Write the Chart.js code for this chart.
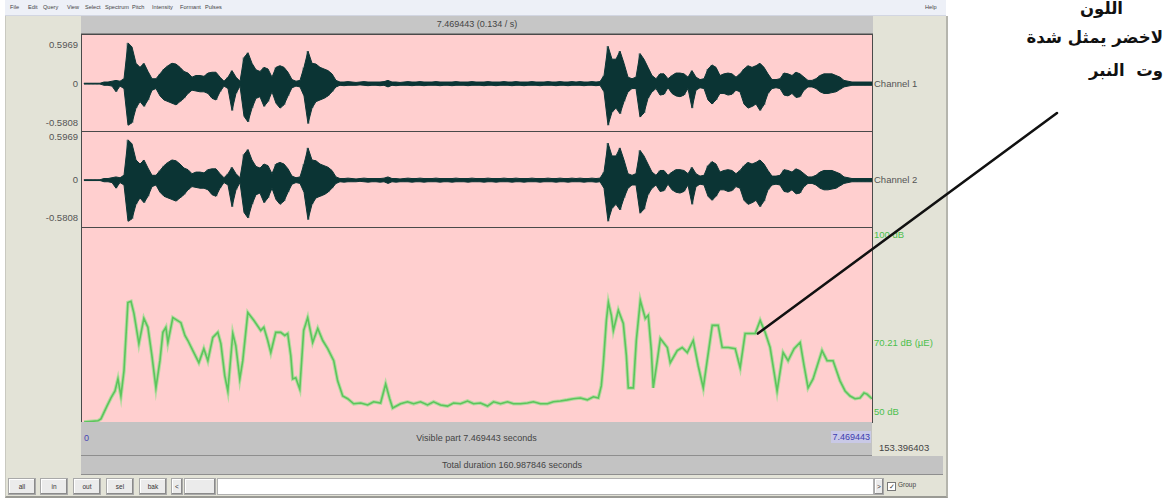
<!DOCTYPE html>
<html>
<head>
<meta charset="utf-8">
<script src="https://cdn.jsdelivr.net/npm/chart.js@4.4.1/dist/chart.umd.min.js"></script>
<style>
  html, body { margin: 0; padding: 0; width: 1176px; height: 500px; overflow: hidden; background: #ffffff;
    font-family: "Liberation Sans", Arial, sans-serif; }
  .a { position: absolute; }
  #menubar { left: 5px; top: 0; width: 941px; height: 15px; background: #edf0f7; border-bottom: 1px solid #d2d6e2; }
  .mi { position: absolute; top: 4px; font-size: 5.6px; color: #444; }
  #win { left: 5px; top: 16px; width: 940px; height: 480px; background: #e3e3d7; border-left: 1px solid #c9c9c0;
    border-right: 2px solid #b5b5ad; border-bottom: 2px solid #9a9a94; }
  #titlebar { left: 81px; top: 16px; width: 792px; height: 17px; background: #c6c6c6; border-bottom: 1px solid #8a8a8a;
    font-size: 9px; color: #444; text-align: center; line-height: 17px; }
  #pane { left: 81px; top: 34px; width: 790px; height: 387px; border: 1px solid #4a4a4a; background: #ffcfcf; }
  .sep { position: absolute; left: 0; width: 790px; height: 1px; background: #4a4a4a; }
  canvas.plot { position: absolute; left: 0; }
  .lab { position: absolute; font-size: 9.5px; color: #555; white-space: nowrap; }
  .lab.r { text-align: right; width: 60px; }
  .green { color: #4cbf4c; }
  #visbar { left: 81px; top: 422px; width: 791px; height: 33px; background: #c3c3c3; border-bottom: 1px solid #8e8e8e;
    font-size: 9px; color: #444; }
  #totbar { left: 81px; top: 456px; width: 862px; height: 18px; background: #c3c3c3; border-bottom: 1px solid #8e8e8e;
    font-size: 9px; color: #444; text-align: center; line-height: 18px; }
  .btn { position: absolute; top: 478px; height: 15px; background: #ebebeb; border: 1px solid #a9a9a9;
    box-shadow: inset -1px -1px 0 #8a8a8a, inset 1px 1px 0 #fff; font-size: 6.5px; color: #333; text-align: center; line-height: 15px; }
  #scroll { left: 217px; top: 478px; width: 655px; height: 15px; background: #ffffff; border: 1px solid #b0b0b0; }
  .ar { position: absolute; right: 13px; direction: rtl; font-family: "DejaVu Sans", sans-serif; font-weight: bold;
    font-size: 16.5px; color: #111; white-space: pre; }
  #overlay { position: absolute; left: 0; top: 0; pointer-events: none; }
</style>
</head>
<body>

<div id="win" class="a"></div>
<div id="menubar" class="a">
  <span class="mi" style="left:5px">File</span><span class="mi" style="left:23px">Edit</span><span class="mi" style="left:38px">Query</span>
  <span class="mi" style="left:62px">View</span><span class="mi" style="left:80px">Select</span><span class="mi" style="left:100px">Spectrum</span>
  <span class="mi" style="left:127px">Pitch</span><span class="mi" style="left:147px">Intensity</span><span class="mi" style="left:175px">Formant</span>
  <span class="mi" style="left:200px">Pulses</span><span class="mi" style="left:920px">Help</span>
</div>
<div id="titlebar" class="a">7.469443 (0.134 / s)</div>

<div id="pane" class="a">
  <canvas id="ch1" class="plot" width="790" height="96" style="top:0"></canvas>
  <div class="sep" style="top:96px"></div>
  <canvas id="ch2" class="plot" width="790" height="95" style="top:97px"></canvas>
  <div class="sep" style="top:192px"></div>
  <canvas id="inten" class="plot" width="790" height="194" style="top:193px"></canvas>
</div>

<!-- amplitude labels -->
<div class="lab r" style="left:18px;top:39px">0.5969</div>
<div class="lab r" style="left:18px;top:78px">0</div>
<div class="lab r" style="left:18px;top:117px">-0.5808</div>
<div class="lab r" style="left:18px;top:131px">0.5969</div>
<div class="lab r" style="left:18px;top:174px">0</div>
<div class="lab r" style="left:18px;top:212px">-0.5808</div>
<div class="lab" style="left:874px;top:78px">Channel 1</div>
<div class="lab" style="left:874px;top:174px">Channel 2</div>
<div class="lab green" style="left:874px;top:229px">100 dB</div>
<div class="lab green" id="midLab" style="left:874px;top:336px">70.21 dB (µE)</div>
<div class="lab green" style="left:874px;top:406px">50 dB</div>

<div id="visbar" class="a">
  <span class="a" style="left:3px;top:11px;color:#4646b4">0</span>
  <span class="a" style="left:0;width:791px;top:11px;text-align:center">Visible part 7.469443 seconds</span>
  <span class="a" style="right:1px;top:9px;padding:1px 1px;background:#c9c9e6;color:#3c3cb0">7.469443</span>
</div>
<div class="lab" style="left:879px;top:442px;color:#444">153.396403</div>
<div id="totbar" class="a">Total duration 160.987846 seconds</div>

<div class="btn" style="left:8px;width:26px">all</div>
<div class="btn" style="left:40px;width:26px">in</div>
<div class="btn" style="left:73px;width:26px">out</div>
<div class="btn" style="left:106px;width:26px">sel</div>
<div class="btn" style="left:139px;width:26px">bak</div>
<div class="btn" style="left:171px;width:10px">&lt;</div>
<div class="btn" style="left:184px;width:30px"></div>
<div id="scroll" class="a"></div>
<div class="btn" style="left:874px;width:8px">&gt;</div>
<div class="a" style="left:887px;top:482px;width:7px;height:7px;border:1px solid #777;background:#fff;font-size:7px;line-height:7px;color:#333;text-align:center">✓</div>
<div class="a" style="left:898px;top:481px;font-size:6.5px;color:#444">Group</div>

<div class="ar" style="top:-1px;right:53px">اللون</div>
<div class="ar" style="top:28px">لاخضر يمثل شدة</div>
<div class="ar" style="top:61px">وت  النبر</div>

<canvas id="overlay" width="1176" height="500"></canvas>

<script>
// ---- visible window ----
const visibleStart = 0;
const visibleEnd = 7.469443;

// ---- waveform envelope (same signal on both channels), one frame every envStep seconds ----
const envStep = 0.03782;
const envTop = [
  0.005,0.005,0.005,0.005,0.005,0.02,0.02,0.03,0.04,0.03,
  0.06,0.50,0.45,0.25,0.20,0.25,0.15,0.06,0.06,0.12,
  0.18,0.22,0.25,0.24,0.20,0.15,0.13,0.08,0.10,0.10,
  0.09,0.13,0.14,0.14,0.08,0.03,0.08,0.16,0.08,0.03,
  0.32,0.38,0.25,0.17,0.15,0.20,0.18,0.08,0.20,0.22,
  0.20,0.14,0.05,0.03,0.04,0.20,0.40,0.25,0.24,0.20,
  0.18,0.16,0.12,0.04,0.02,0.02,0.025,0.02,0.015,0.02,
  0.025,0.02,0.02,0.02,0.02,0.025,0.04,0.02,0.02,0.015,
  0.02,0.025,0.02,0.02,0.025,0.02,0.02,0.02,0.025,0.02,
  0.02,0.02,0.02,0.025,0.02,0.02,0.02,0.025,0.02,0.02,
  0.02,0.025,0.02,0.02,0.02,0.025,0.02,0.02,0.025,0.02,
  0.02,0.02,0.025,0.02,0.02,0.02,0.025,0.02,0.02,0.025,
  0.02,0.02,0.025,0.02,0.025,0.02,0.02,0.025,0.02,0.025,
  0.10,0.46,0.30,0.30,0.40,0.25,0.08,0.06,0.08,0.37,
  0.30,0.20,0.10,0.06,0.12,0.12,0.06,0.10,0.13,0.13,
  0.12,0.08,0.16,0.08,0.05,0.06,0.18,0.23,0.20,0.10,
  0.12,0.13,0.12,0.08,0.12,0.18,0.22,0.20,0.22,0.25,
  0.20,0.12,0.05,0.05,0.06,0.13,0.12,0.10,0.14,0.12,
  0.08,0.04,0.04,0.06,0.10,0.12,0.12,0.12,0.10,0.08,
  0.04,0.03,0.02,0.02,0.02,0.02,0.02,0.02
];
const envBottom = [
  0.005,0.005,0.005,0.005,0.005,0.02,0.02,0.03,0.10,0.03,
  0.06,0.51,0.48,0.30,0.22,0.28,0.20,0.08,0.06,0.15,
  0.20,0.22,0.24,0.26,0.22,0.18,0.12,0.08,0.09,0.10,
  0.10,0.12,0.18,0.20,0.10,0.03,0.06,0.33,0.12,0.03,
  0.40,0.47,0.30,0.18,0.16,0.28,0.22,0.10,0.24,0.30,
  0.26,0.15,0.05,0.03,0.04,0.15,0.49,0.30,0.22,0.20,
  0.18,0.15,0.10,0.04,0.02,0.025,0.02,0.02,0.02,0.015,
  0.02,0.025,0.02,0.02,0.025,0.02,0.04,0.02,0.025,0.02,
  0.02,0.02,0.025,0.02,0.02,0.025,0.02,0.02,0.02,0.025,
  0.02,0.02,0.025,0.02,0.02,0.02,0.025,0.02,0.02,0.02,
  0.025,0.02,0.02,0.025,0.02,0.02,0.02,0.025,0.02,0.02,
  0.025,0.02,0.02,0.02,0.025,0.02,0.02,0.02,0.025,0.02,
  0.02,0.025,0.02,0.02,0.02,0.025,0.02,0.02,0.025,0.02,
  0.10,0.51,0.35,0.30,0.37,0.22,0.10,0.06,0.06,0.41,
  0.36,0.18,0.10,0.06,0.14,0.13,0.05,0.12,0.15,0.16,
  0.14,0.06,0.30,0.08,0.05,0.06,0.20,0.25,0.20,0.12,
  0.12,0.14,0.13,0.08,0.10,0.25,0.30,0.28,0.25,0.33,
  0.26,0.12,0.06,0.05,0.06,0.14,0.15,0.12,0.17,0.16,
  0.08,0.04,0.04,0.06,0.10,0.12,0.12,0.11,0.10,0.07,
  0.04,0.03,0.02,0.02,0.02,0.02,0.02,0.02
];
const ampMax = 0.5969;
const ampMin = -0.5808;

// ---- intensity contour ----
const intensityTime = [
  0.019,0.151,0.179,0.236,0.274,0.312,0.340,0.368,0.397,0.434,0.463,0.491,0.538,0.585,0.623,0.661,0.699,0.737,0.765,0.793,
  0.812,0.859,0.935,0.973,1.001,1.048,1.105,1.152,1.190,1.237,1.284,1.313,1.350,1.379,1.426,1.454,1.492,1.520,1.568,1.624,
  1.690,1.719,1.756,1.785,1.832,1.879,1.917,1.945,1.974,1.992,2.021,2.059,2.096,2.134,2.181,2.229,2.276,2.323,2.380,2.417,
  2.465,2.512,2.569,2.635,2.701,2.757,2.823,2.871,2.909,2.937,3.012,3.078,3.135,3.201,3.267,3.324,3.390,3.456,3.513,3.579,
  3.645,3.702,3.768,3.834,3.891,3.957,4.023,4.079,4.146,4.212,4.268,4.334,4.401,4.457,4.523,4.589,4.646,4.712,4.778,4.835,
  4.882,4.910,4.929,4.958,4.977,5.005,5.024,5.071,5.118,5.147,5.165,5.213,5.241,5.279,5.326,5.354,5.383,5.401,5.439,5.468,
  5.534,5.562,5.628,5.675,5.723,5.779,5.826,5.874,5.911,5.959,6.015,6.053,6.110,6.176,6.223,6.270,6.365,6.412,6.459,6.506,
  6.572,6.629,6.676,6.733,6.790,6.827,6.865,6.912,6.997,7.045,7.101,7.167,7.215,7.262,7.309,7.356,7.394,7.422,7.469
];
const intensityDb = [
  50.0,50.3,50.8,54.1,56.2,58.0,61.1,56.7,63.2,80.8,81.1,78.0,70.2,76.7,74.4,67.1,58.8,65.8,73.1,74.4,
  70.5,76.9,75.6,72.3,71.0,68.4,65.3,68.9,65.8,71.8,73.1,70.2,61.9,58.0,72.8,69.7,61.1,65.8,78.2,76.2,
  73.6,74.4,71.0,67.9,73.1,73.1,72.3,72.8,67.1,61.1,61.4,58.5,73.6,76.9,70.5,74.1,71.0,68.9,65.8,60.6,
  56.7,56.0,54.7,54.9,54.4,55.2,54.9,59.8,56.0,53.6,54.7,55.2,54.7,55.2,54.4,55.2,54.4,54.1,54.9,54.7,
  55.4,54.7,54.9,54.1,55.2,54.7,55.2,54.7,54.7,54.9,55.2,54.7,54.7,55.2,55.4,55.7,56.0,56.2,55.7,56.5,
  56.2,59.3,65.0,76.2,80.8,77.5,73.6,78.8,75.4,67.1,58.8,58.8,71.0,81.3,76.7,77.5,68.4,58.8,65.8,71.5,
  69.2,65.3,68.4,69.2,67.9,71.0,64.5,58.8,65.8,74.9,74.9,69.2,69.2,68.9,64.0,72.8,72.8,76.2,73.1,69.2,
  58.0,67.9,65.8,68.9,70.5,64.5,58.8,61.1,68.4,65.8,65.8,60.6,58.0,56.7,56.0,56.2,57.5,57.2,56.0
];
const dbMin = 50;
const dbMax = 100;
const dbMid = 70.21;

// annotated point on the intensity contour
const calloutTime = 6.39;
const calloutDb = 72.8;

// ---- waveform datasets: filled envelope plus a trace swinging between its edges ----
function envelopeEdge(values, sign) {
  return values.map((v, i) => ({ x: (i + 0.5) * envStep, y: sign * v }));
}
function waveTrace() {
  const pts = [];
  for (let i = 0; i < envTop.length; i++) {
    pts.push({ x: i * envStep + envStep * 0.25, y: envTop[i] });
    pts.push({ x: i * envStep + envStep * 0.75, y: -envBottom[i] });
  }
  return pts;
}

const hiddenAxes = (yMin, yMax) => ({
  x: { type: 'linear', min: visibleStart, max: visibleEnd, display: false },
  y: { type: 'linear', min: yMin, max: yMax, display: false }
});

const baseOpts = (yMin, yMax) => ({
  responsive: false,
  animation: false,
  devicePixelRatio: 1,
  layout: { padding: 0 },
  plugins: { legend: { display: false }, tooltip: { enabled: false }, filler: { propagate: false } },
  elements: { point: { radius: 0 } },
  scales: hiddenAxes(yMin, yMax)
});

function waveChart(id) {
  return new Chart(document.getElementById(id), {
    type: 'line',
    data: { datasets: [
      { data: envelopeEdge(envTop, 1), borderColor: '#0b3434', borderWidth: 1, tension: 0, fill: false },
      { data: envelopeEdge(envBottom, -1), borderColor: '#0b3434', borderWidth: 1, tension: 0,
        fill: '-1', backgroundColor: '#0b3434' },
      { data: waveTrace(), borderColor: 'rgba(70,120,120,0.55)', borderWidth: 0.7, tension: 0, fill: false }
    ] },
    options: baseOpts(ampMin, ampMax)
  });
}
waveChart('ch1');
waveChart('ch2');

const intensityPoints = intensityTime.map((t, i) => ({ x: t, y: intensityDb[i] }));
const inten = new Chart(document.getElementById('inten'), {
  type: 'line',
  data: { datasets: [
    { data: intensityPoints, borderColor: 'rgba(120,225,120,0.55)', borderWidth: 3.6, tension: 0, fill: false },
    { data: intensityPoints, borderColor: '#3aa23a', borderWidth: 1.6, tension: 0, fill: false }
  ] },
  options: baseOpts(dbMin, dbMax)
});

// page offsets of the intensity plot area
const intenLeft = 82, intenTop = 228;
const ys = inten.scales.y, xs = inten.scales.x;
document.getElementById('midLab').style.top = (intenTop + ys.getPixelForValue(dbMid) - 7) + 'px';

// callout line from the note to the contour
const ov = document.getElementById('overlay').getContext('2d');
const tipX = intenLeft + xs.getPixelForValue(calloutTime);
const tipY = intenTop + ys.getPixelForValue(calloutDb);
ov.strokeStyle = '#111';
ov.lineWidth = 2.6;
ov.lineCap = 'round';
ov.beginPath();
ov.moveTo(1057, 113);
ov.lineTo(tipX, tipY);
ov.stroke();
</script>
</body>
</html>
